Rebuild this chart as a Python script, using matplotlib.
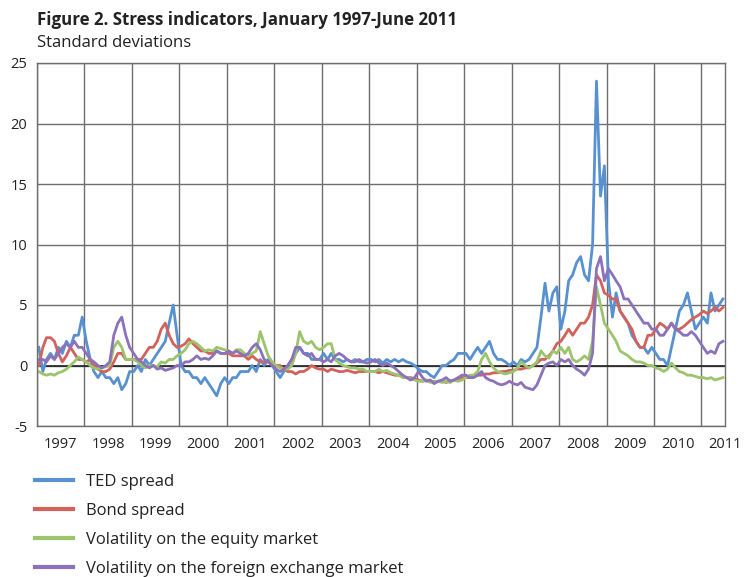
import numpy as np
import pandas as pd
import matplotlib
matplotlib.use("Agg")
import matplotlib.pyplot as plt
import matplotlib.dates as mdates

plt.rcParams['font.family'] = ['Open Sans', 'DejaVu Sans']
plt.rcParams['axes.unicode_minus'] = False

# monthly readings, Jan 1997 - Jun 2011 (standard deviations)
ted = [
    1.5, -0.5, 0.5, 1.0, 0.5, 1.5, 1.0, 2.0, 1.5, 2.5, 2.5, 4.0,      # 1997
    2.0, 0.5, -0.5, -1.0, -0.5, -1.0, -1.0, -1.5, -1.0, -2.0, -1.5, -0.5,  # 1998
    -0.5, 0.0, -0.5, 0.5, 0.0, 0.5, 1.0, 1.5, 2.0, 3.5, 5.0, 2.5,     # 1999
    0.0, -0.5, -0.5, -1.0, -1.0, -1.5, -1.0, -1.5, -2.0, -2.5, -1.5, -1.0,  # 2000
    -1.5, -1.0, -1.0, -0.5, -0.5, -0.5, 0.0, -0.5, 0.5, 0.0, 0.5, 0.0,  # 2001
    -0.5, -1.0, -0.5, 0.0, 0.5, 1.0, 1.5, 1.0, 1.0, 0.5, 0.5, 0.5,    # 2002
    1.0, 0.5, 1.0, 0.5, 0.5, 0.3, 0.5, 0.3, 0.5, 0.3, 0.3, 0.5,       # 2003
    0.5, 0.3, 0.5, 0.2, 0.5, 0.3, 0.5, 0.3, 0.5, 0.3, 0.2, 0.0,       # 2004
    -0.3, -0.5, -0.5, -0.8, -1.0, -0.5, 0.0, 0.0, 0.3, 0.5, 1.0, 1.0,  # 2005
    1.0, 0.5, 1.0, 1.5, 1.0, 1.5, 2.0, 1.0, 0.5, 0.5, 0.3, 0.0,       # 2006
    0.3, 0.0, 0.5, 0.3, 0.5, 1.0, 1.5, 4.0, 6.8, 4.5, 6.0, 6.5,       # 2007
    3.0, 4.5, 7.0, 7.5, 8.5, 9.0, 7.5, 7.0, 10.0, 23.5, 14.0, 16.5,   # 2008
    7.0, 4.0, 6.0, 4.5, 4.0, 3.5, 2.5, 2.0, 1.5, 1.5, 1.0, 1.5,       # 2009
    1.0, 0.5, 0.5, 0.0, 1.5, 3.0, 4.5, 5.0, 6.0, 4.5, 3.0, 3.5,       # 2010
    4.0, 3.5, 6.0, 4.5, 5.0, 5.5,                                     # 2011
]
bond = [
    0.0, 1.5, 2.3, 2.3, 2.0, 1.0, 0.3, 0.8, 1.5, 1.0, 0.5, 0.5,
    0.3, 0.5, 0.0, -0.3, -0.5, -0.5, -0.3, 0.3, 1.0, 1.0, 0.5, 0.5,
    0.5, 0.5, 0.5, 1.0, 1.5, 1.5, 2.0, 3.0, 3.5, 2.5, 1.8, 1.5,
    1.6, 1.8, 2.2, 1.8, 1.5, 1.2, 1.2, 1.0, 1.0, 1.2, 1.0, 1.0,
    1.0, 0.8, 0.8, 0.8, 0.8, 0.5, 0.8, 0.5, 0.3, 0.3, 0.3, 0.2,
    0.0, 0.0, -0.3, -0.5, -0.5, -0.7, -0.5, -0.5, -0.3, 0.0, -0.2, -0.3,
    -0.3, -0.5, -0.3, -0.4, -0.5, -0.5, -0.4, -0.5, -0.6, -0.5, -0.5, -0.5,
    -0.5, -0.5, -0.6, -0.5, -0.6, -0.7, -0.8, -0.8, -0.9, -1.0, -1.0, -1.1,
    -1.2, -1.3, -1.2, -1.3, -1.4, -1.3, -1.3, -1.4, -1.3, -1.2, -1.2, -1.0,
    -1.0, -1.0, -0.9, -0.8, -0.8, -0.7, -0.7, -0.6, -0.6, -0.5, -0.5, -0.4,
    -0.4, -0.3, -0.3, -0.2, -0.2, 0.0, 0.2, 0.5, 0.5, 0.8, 1.2, 1.8,
    2.0, 2.5, 3.0, 2.5, 3.0, 3.5, 3.5, 4.0, 5.0, 7.5, 7.0, 6.0,
    5.8, 5.5, 5.5, 4.5, 4.0, 3.5, 3.0, 2.0, 1.5, 1.5, 2.5, 2.5,
    3.0, 3.5, 3.3, 3.0, 3.5, 3.0, 3.0, 3.2, 3.5, 3.8, 4.0, 4.2,
    4.5, 4.3, 4.5, 4.8, 4.5, 4.8,
]
equity = [
    -0.5, -0.7, -0.8, -0.7, -0.8, -0.6, -0.5, -0.3, 0.0, 0.3, 0.7, 0.5,
    0.3, 0.0, -0.2, -0.3, -0.2, -0.1, 0.0, 1.5, 2.0, 1.5, 0.5, 0.5,
    0.5, 0.3, 0.0, -0.2, 0.0, 0.0, -0.1, 0.3, 0.2, 0.5, 0.5, 0.8,
    1.0, 1.3, 1.8, 2.0, 1.8, 1.5, 1.2, 1.3, 1.2, 1.5, 1.4, 1.3,
    1.2, 1.0, 1.3, 1.3, 1.0, 0.8, 1.0, 1.2, 2.8, 1.8, 0.8, 0.3,
    0.0, -0.2, -0.3, -0.3, 0.0, 1.0, 2.8, 2.0, 1.8, 2.0, 1.5, 1.3,
    1.5, 1.8, 1.8, 0.5, 0.2, 0.0, -0.1, -0.2, -0.2, -0.3, -0.3, -0.5,
    -0.5, -0.5, -0.3, -0.5, -0.4, -0.6, -0.7, -0.8, -1.0, -1.0, -1.1, -1.2,
    -1.3, -1.3, -1.2, -1.4, -1.3, -1.3, -1.4, -1.3, -1.4, -1.2, -1.3, -1.2,
    -1.0, -0.8, -0.8, -0.5, 0.5, 1.0, 0.3, -0.2, -0.5, -0.6, -0.7, -0.6,
    -0.5, -0.2, 0.3, 0.0, -0.2, 0.0, 0.3, 1.2, 0.8, 0.6, 1.2, 1.0,
    1.5, 1.0, 1.5, 0.5, 0.3, 0.5, 0.8, 0.5, 2.0, 6.5, 5.0, 3.5,
    3.0, 2.5, 2.0, 1.2, 1.0, 0.8, 0.5, 0.3, 0.3, 0.2, 0.0, 0.0,
    -0.2, -0.3, -0.5, -0.3, 0.2, -0.2, -0.5, -0.6, -0.8, -0.8, -0.9, -1.0,
    -1.0, -1.1, -1.0, -1.2, -1.1, -1.0,
]
fx = [
    0.5, 0.5, 0.3, 0.8, 0.5, 1.0, 1.5, 1.8, 1.5, 2.0, 1.5, 1.5,
    1.0, 0.5, 0.3, 0.0, -0.2, 0.0, 0.3, 2.5, 3.5, 4.0, 2.5, 1.5,
    1.0, 0.5, 0.3, 0.0, -0.2, 0.0, -0.3, -0.2, -0.4, -0.3, -0.2, 0.0,
    0.0, 0.3, 0.3, 0.5, 0.8, 0.5, 0.6, 0.5, 0.8, 1.2, 1.0, 1.0,
    1.2, 1.0, 1.2, 1.0, 0.8, 1.0, 1.5, 1.8, 1.3, 0.5, 0.3, 0.0,
    -0.3, -0.5, -0.3, 0.0, 0.5, 1.5, 1.5, 1.0, 0.8, 1.0, 0.5, 0.5,
    0.3, 0.5, 0.3, 0.8, 1.0, 0.8, 0.5, 0.3, 0.3, 0.5, 0.3, 0.2,
    0.3, 0.5, 0.2, 0.0, 0.2, 0.0, -0.2, -0.5, -0.8, -1.0, -1.2, -1.0,
    -0.5, -1.0, -1.3, -1.2, -1.5, -1.3, -1.2, -1.0, -1.3, -1.2, -1.0, -0.8,
    -0.8, -1.0, -1.0, -0.8, -0.5, -1.0, -1.2, -1.3, -1.5, -1.6, -1.5, -1.3,
    -1.5, -1.6, -1.4, -1.8, -1.9, -2.0, -1.6, -0.8, 0.0, 0.2, 0.3, 0.0,
    0.5, 0.3, 0.5, 0.0, -0.3, -0.5, -0.8, -0.3, 1.0, 8.0, 9.0, 7.0,
    8.0, 7.5, 7.0, 6.5, 5.5, 5.5, 5.0, 4.5, 4.0, 3.5, 3.5, 3.0,
    3.0, 2.5, 2.5, 3.0, 3.5, 3.0, 2.8, 2.5, 2.5, 2.8, 2.5, 2.0,
    1.5, 1.0, 1.2, 1.0, 1.8, 2.0,
]

labels = ["TED spread", "Bond spread", "Volatility on the equity market",
          "Volatility on the foreign exchange market"]
colors = ["#5891d0", "#d2625b", "#9cc46c", "#8b72ba"]

dates = pd.date_range("1997-01-01", periods=len(ted), freq="MS") + pd.Timedelta(days=14)

fig = plt.figure(figsize=(7.45, 5.77), dpi=100)
ax = fig.add_axes([37 / 745, 1 - 426 / 577, 688 / 745, 363 / 577])

for series, lab, col in zip([ted, bond, equity, fx], labels, colors):
    ax.plot(dates, series, color=col, lw=2.0, label=lab, solid_joinstyle="round")

ax.set_xlim(pd.Timestamp("1997-01-01"), pd.Timestamp("2011-07-01"))
ax.set_ylim(-5, 25)
ax.set_yticks(range(-5, 26, 5))

# year gridlines at Jan 1, year labels centred in each year
ax.xaxis.set_major_locator(mdates.YearLocator())
ax.xaxis.set_major_formatter(plt.NullFormatter())
ax.xaxis.set_minor_locator(mdates.MonthLocator(bymonth=7, bymonthday=1))
ax.xaxis.set_minor_formatter(mdates.DateFormatter("%Y"))
ax.tick_params(axis="x", which="both", length=0, labelsize=10.5, pad=8, colors="#222222")
ax.tick_params(axis="y", length=0, labelsize=10.5, pad=7, colors="#222222")

ax.grid(True, which="major", color="#6e6e6e", lw=1.0)
ax.axhline(0, color="#222222", lw=1.2, zorder=1.5)
for s in ax.spines.values():
    s.set_color("#6e6e6e")
    s.set_linewidth(1.0)
ax.set_axisbelow(True)

fig.text(37 / 745, 1 - 20 / 577, "Figure 2. Stress indicators, January 1997-June 2011",
         fontsize=12.2, fontweight="bold", va="center", ha="left", color="#222222")
fig.text(37 / 745, 1 - 43 / 577, "Standard deviations",
         fontsize=12, va="center", ha="left", color="#222222")

fig.legend(loc="upper left", bbox_to_anchor=(35 / 745, 1 - 474 / 577), frameon=False,
           fontsize=12, handlelength=2.3, handletextpad=0.75, labelspacing=0.78,
           borderpad=0, borderaxespad=0, labelcolor="#222222")
for line in fig.legends[0].get_lines():
    line.set_linewidth(3.0)

fig.savefig("out.png", dpi=100)
